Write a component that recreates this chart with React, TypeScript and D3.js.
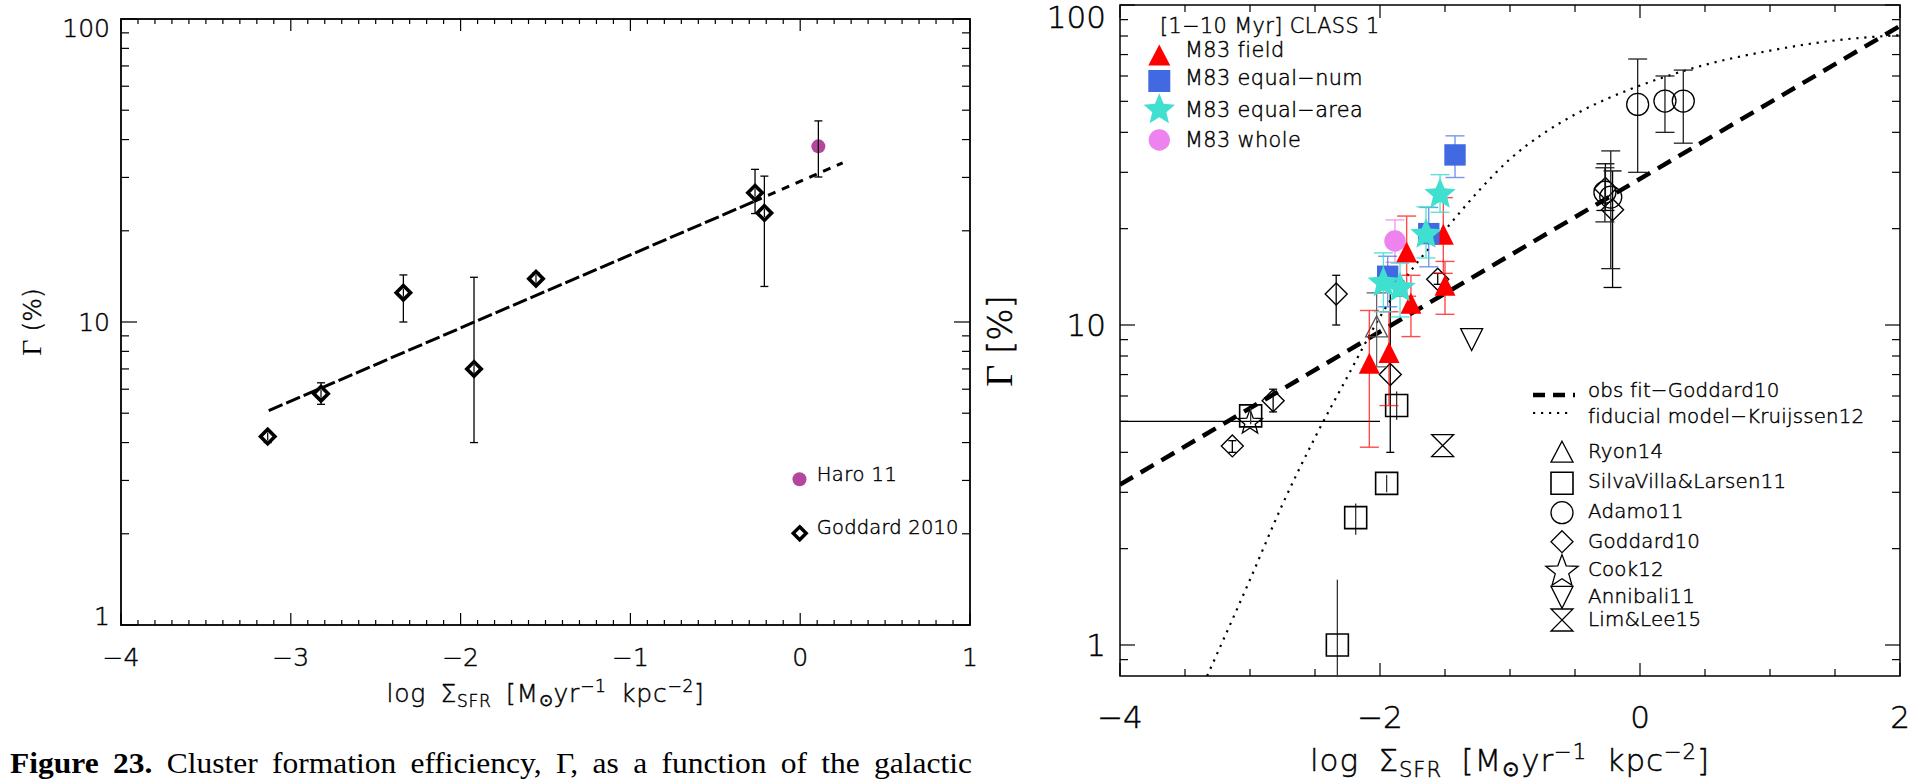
import React, { useLayoutEffect, useRef } from "react";
import * as d3 from "d3";

const SANS = "'DejaVu Sans', sans-serif";
const SANS_WEIGHT = 300;
const SANS_STROKE = { stroke: "#000", strokeWidth: 0.45 };
const SERIF = "'Liberation Serif', 'Times New Roman', serif";

// ---------- Goddard et al. (2010) galaxies: log ΣSFR, Γ [%] and error range ----------
const goddardLogSfr = [-3.136, -2.822, -2.337, -1.921, -1.556, -0.266, -0.211];
const goddardGamma = [4.19, 5.8, 12.5, 7.0, 13.9, 26.7, 22.9];
const goddardLow = [4.0, 5.35, 10.0, 4.0, 13.4, 22.8, 13.1];
const goddardHigh = [4.35, 6.3, 14.3, 14.05, 14.5, 31.9, 30.3];

// ---------- Haro 11 ----------
const haroLogSfr = [0.107];
const haroGamma = [38.0];
const haroLow = [30.1];
const haroHigh = [46.1];

// Goddard10 relation as drawn on the left: long-dash part, then short-dash extension
const leftFitLogSfr = [-3.13, -0.27, 0.25];
const leftFitGamma = [5.1, 25.0, 33.5];

// ---------- Right panel ----------
const rightFitLogSfr = [-4, 2];
const rightFitGamma = [3.17, 86.0];

// Kruijssen (2012) fiducial model
const modelLogSfr = [-3.33, -3.0, -2.75, -2.5, -2.25, -2.0, -1.75, -1.5, -1.25, -1.0, -0.75, -0.5, -0.25, 0, 0.5, 1.0, 1.5, 2.0];
const modelGamma = [0.8, 1.6, 2.75, 4.45, 6.9, 10.6, 15.0, 19.8, 26.0, 33.0, 39.5, 45.5, 51.0, 56.0, 65.0, 72.0, 77.5, 80.5];

// M83 [1-10 Myr] class 1
const fieldLogSfr = [-2.082, -1.931, -1.762, -1.795, -1.5, -1.513];
const fieldGamma = [7.6, 8.2, 11.7, 16.9, 13.3, 19.2];
const fieldLow = [4.15, 5.6, 9.2, 12.3, 10.8, 14.5];
const fieldHigh = [11.1, 11.0, 14.3, 21.9, 15.8, 25.0];

const numLogSfr = [-1.941, -1.625, -1.423];
const numGamma = [14.2, 19.3, 34.0];
const numLow = [11.4, 15.2, 28.9];
const numHigh = [16.4, 23.3, 39.0];

const areaLogSfr = [-1.974, -1.846, -1.646, -1.538];
const areaGamma = [13.7, 13.2, 19.4, 25.9];
const areaLow = [11.0, 10.6, 16.2, 22.5];
const areaHigh = [16.8, 15.6, 23.4, 29.5];

const wholeLogSfr = [-1.885];
const wholeGamma = [18.3];
const wholeLow = [15.7];
const wholeHigh = [21.3];

// Literature samples
const ryonLogSfr = [-2.026];
const ryonGamma = [9.9];
const ryonLow = [7.4];
const ryonHigh = [12.6];

const silvaLogSfr = [-2.995, -1.872, -1.949, -2.187, -2.328];
const silvaGamma = [5.2, 5.6, 3.2, 2.5, 1.0];
const silvaLow = [4.9, 5.05, 3.0, 2.21, 0.5];
const silvaHigh = [5.5, 6.2, 3.4, 2.77, 1.6];

const adamoLogSfr = [-0.018, 0.192, 0.333, -0.27, -0.225];
const adamoGamma = [48.9, 50.1, 50.1, 26.0, 25.1];
const adamoLow = [30.0, 40.0, 37.0, 21.0, 15.0];
const adamoHigh = [67.8, 60.0, 62.6, 31.0, 35.0];

const cookLogSfr = [-3.0];
const cookGamma = [5.0];
const cookSfrLow = [-4.3];
const cookSfrHigh = [-2.0];

const annibaliLogSfr = [-1.295];
const annibaliGamma = [9.0];

const limLeeLogSfr = [-1.518];
const limLeeGamma = [4.2];

// Labels
const leftLegendLabels = ["Haro 11", "Goddard 2010"];
const m83Title = "[1\u221210 Myr] CLASS 1";
const m83Labels = ["M83 field", "M83 equal\u2212num", "M83 equal\u2212area", "M83 whole"];
const lineLabels = ["obs fit\u2212Goddard10", "fiducial model\u2212Kruijssen12"];
const litLabels = ["Ryon14", "SilvaVilla&Larsen11", "Adamo11", "Goddard10", "Cook12", "Annibali11", "Lim&Lee15"];
const leftXTicks = [-4, -3, -2, -1, 0, 1];
const rightXTicks = [-4, -2, 0, 2];
const yTickValues = [1, 10, 100];
const captionHead = "Figure 23.";
const captionBody = " Cluster formation efficiency, \u0393, as a function of the galactic";

// ---------- colours ----------
const RED = "#ff0000";
const BLUE = "#4169e1";
const CYAN = "#40e0d0";
const VIOLET = "#ee82ee";
const HARO = "#b4469d";

// ---------- symbol paths ----------
const diamondPath = (cx: number, cy: number, r: number) =>
  `M${cx},${cy - r}L${cx + r},${cy}L${cx},${cy + r}L${cx - r},${cy}Z`;
const triUpPath = (cx: number, cy: number, w: number, h: number) =>
  `M${cx},${cy - h / 2}L${cx + w},${cy + h / 2}L${cx - w},${cy + h / 2}Z`;
const triDownPath = (cx: number, cy: number, w: number, h: number) =>
  `M${cx - w},${cy - h / 2}L${cx + w},${cy - h / 2}L${cx},${cy + h / 2}Z`;
const hourglassPath = (cx: number, cy: number, r: number) =>
  `M${cx - r},${cy - r}L${cx + r},${cy - r}L${cx - r},${cy + r}L${cx + r},${cy + r}Z`;
const squarePath = (cx: number, cy: number, r: number) =>
  `M${cx - r},${cy - r}h${2 * r}v${2 * r}h${-2 * r}Z`;
const starPath = (cx: number, cy: number, R: number, ratio = 0.42) => {
  const pts: string[] = [];
  for (let i = 0; i < 10; i++) {
    const r = i % 2 === 0 ? R : R * ratio;
    const a = -Math.PI / 2 + (i * Math.PI) / 5;
    pts.push(`${cx + r * Math.cos(a)},${cy + r * Math.sin(a) + R * 0.095}`);
  }
  return "M" + pts.join("L") + "Z";
};

// Text whose inter-word spaces are stretched so that it spans a given width
function SpacedText({ width, children, ...rest }: any) {
  const ref = useRef<SVGTextElement>(null);
  useLayoutEffect(() => {
    const el = ref.current;
    if (!el) return;
    el.style.wordSpacing = "0px";
    const natural = el.getComputedTextLength();
    const spaces = (el.textContent || "").split(" ").length - 1;
    if (spaces > 0) el.style.wordSpacing = `${Math.max(0, (width - natural) / spaces)}px`;
  }, [width]);
  return (
    <text ref={ref} {...rest}>
      {children}
    </text>
  );
}

function VErr({ x, y0, y1, cap, color, width = 1.2, opacity = 1 }: any) {
  return (
    <g stroke={color} strokeWidth={width} opacity={opacity}>
      <line x1={x} x2={x} y1={y0} y2={y1} />
      {cap > 0 && (
        <>
          <line x1={x - cap / 2} x2={x + cap / 2} y1={y0} y2={y0} />
          <line x1={x - cap / 2} x2={x + cap / 2} y1={y1} y2={y1} />
        </>
      )}
    </g>
  );
}

// Box frame with inward ticks on all four sides and labels on left/bottom
function Frame({ x, y, xMinor, xMajor, yMinor, yMajor, xLabels, xMinorLen, xMajorLen, yMinorLen, yMajorLen,
  tickFont, labelRight, xLabelBaseline, stroke }: any) {
  const [x0, x1] = x.range();
  const [yb, yt] = y.range();
  const digitH = tickFont * 0.73;
  return (
    <g stroke="#000" strokeWidth={1.2} fill="none">
      <rect x={x0} y={yt} width={x1 - x0} height={yb - yt} strokeWidth={stroke} />
      {xMinor.map((v: number, i: number) => (
        <g key={"xm" + i}>
          <line x1={x(v)} x2={x(v)} y1={yb} y2={yb - xMinorLen} />
          <line x1={x(v)} x2={x(v)} y1={yt} y2={yt + xMinorLen} />
        </g>
      ))}
      {xMajor.map((v: number, i: number) => (
        <g key={"xM" + i}>
          <line x1={x(v)} x2={x(v)} y1={yb} y2={yb - xMajorLen} />
          <line x1={x(v)} x2={x(v)} y1={yt} y2={yt + xMajorLen} />
        </g>
      ))}
      {yMinor.map((v: number, i: number) => (
        <g key={"ym" + i}>
          <line x1={x0} x2={x0 + yMinorLen} y1={y(v)} y2={y(v)} />
          <line x1={x1} x2={x1 - yMinorLen} y1={y(v)} y2={y(v)} />
        </g>
      ))}
      {yMajor.map((v: number, i: number) => (
        <g key={"yM" + i}>
          <line x1={x0} x2={x0 + yMajorLen} y1={y(v)} y2={y(v)} />
          <line x1={x1} x2={x1 - yMajorLen} y1={y(v)} y2={y(v)} />
        </g>
      ))}
      <g fill="#000" {...SANS_STROKE} fontFamily={SANS} fontWeight={SANS_WEIGHT} fontSize={tickFont}>
        {yMajor.map((v: number, i: number) => {
          const base = Math.max(yt + digitH, Math.min(y(v) + digitH / 2, yb));
          return (
            <text key={"yl" + i} x={labelRight} y={base} textAnchor="end">
              {String(v)}
            </text>
          );
        })}
        {xLabels.map((v: number, i: number) => (
          <text key={"xl" + i} x={x(v)} y={xLabelBaseline} textAnchor="middle">
            {v < 0 ? "\u2212" + Math.abs(v) : String(v)}
          </text>
        ))}
      </g>
    </g>
  );
}

function SfrTitle({ cx, y, size, width }: any) {
  const s = size * 0.68;
  const dn = size * 0.2;
  const up = size * 0.4;
  return (
    <SpacedText x={cx - width / 2} y={y} fontSize={size} fontFamily={SANS} fontWeight={SANS_WEIGHT}
      letterSpacing={size * 0.03} width={width} {...SANS_STROKE}>
      {"log \u03a3"}
      <tspan fontSize={s} dy={dn}>SFR</tspan>
      <tspan dy={-dn}>{" [M"}</tspan>
      <tspan fontSize={s} dy={dn * 0.8}>{"\u2299"}</tspan>
      <tspan dy={-dn * 0.8}>yr</tspan>
      <tspan fontSize={s} dy={-up}>{"\u22121"}</tspan>
      <tspan dy={up}>{" kpc"}</tspan>
      <tspan fontSize={s} dy={-up}>{"\u22122"}</tspan>
      <tspan dy={up}>]</tspan>
    </SpacedText>
  );
}

function decadeMinors(lo: number, hi: number) {
  const out: number[] = [];
  for (let e = lo; e < hi; e++) for (let m = 2; m <= 9; m++) out.push(m * Math.pow(10, e));
  return out;
}

export default function App() {
  // ----- scales -----
  const xL = d3.scaleLinear().domain([-4, 1]).range([121, 970]);
  const yL = d3.scaleLog().domain([1, 100]).range([625, 19]);
  const xR = d3.scaleLinear().domain([-4, 2]).range([1120, 1900]);
  const yR = d3.scaleLog().domain([0.8, 100]).range([676, 5]);

  const leftXMinor = d3.range(-40, 11).map((i) => i / 10).filter((v) => Math.abs(v - Math.round(v)) > 1e-6);
  const rightXMinor = d3.range(-8, 5).map((i) => i / 2).filter((v) => !rightXTicks.includes(v));
  const leftYMinor = decadeMinors(0, 2);
  const rightYMinor = [0.9, ...decadeMinors(0, 2)];

  const lineL = d3.line<[number, number]>().x((d) => xL(d[0])).y((d) => yL(d[1]));
  const lineR = d3.line<[number, number]>().x((d) => xR(d[0])).y((d) => yR(d[1]));
  const modelLine = d3
    .line<[number, number]>()
    .x((d) => xR(d[0]))
    .y((d) => yR(d[1]))
    .curve(d3.curveMonotoneX);

  const pairs = (xs: number[], ys: number[]) => xs.map((v, i) => [v, ys[i]] as [number, number]);

  return (
    <svg width={1915} height={782} style={{ position: "absolute", left: 0, top: 0, background: "#fff" }}>
      <rect width={1915} height={782} fill="#fff" />
      <defs>
        <clipPath id="clipR">
          <rect x={1120} y={5} width={780} height={671} />
        </clipPath>
        <clipPath id="clipL">
          <rect x={121} y={19} width={849} height={606} />
        </clipPath>
      </defs>

      {/* ================= LEFT PANEL ================= */}
      <Frame
        x={xL} y={yL}
        xMinor={leftXMinor} xMajor={leftXTicks}
        yMinor={leftYMinor} yMajor={yTickValues}
        xLabels={leftXTicks}
        xMinorLen={5} xMajorLen={12} yMinorLen={8} yMajorLen={16}
        tickFont={25} labelRight={110} xLabelBaseline={666} stroke={1.8}
      />
      <g clipPath="url(#clipL)" fill="none" stroke="#000" strokeWidth={3}>
        <path d={lineL(pairs(leftFitLogSfr.slice(0, 2), leftFitGamma.slice(0, 2))) || ""} strokeDasharray="15,4" />
        <path d={lineL(pairs(leftFitLogSfr.slice(1), leftFitGamma.slice(1))) || ""} strokeDasharray="8,7" />
      </g>
      {goddardLogSfr.map((v, i) => {
        const cx = xL(v);
        return (
          <g key={"gl" + i}>
            <VErr x={cx} y0={yL(goddardLow[i])} y1={yL(goddardHigh[i])} cap={8} color="#000" width={1.3} />
            <path d={diamondPath(cx, yL(goddardGamma[i]), 7.2)} fill="#fff" stroke="#000" strokeWidth={3.6} />
            <line x1={cx} x2={cx} y1={yL(goddardGamma[i]) - 4} y2={yL(goddardGamma[i]) + 4} stroke="#000" strokeWidth={1.2} />
          </g>
        );
      })}
      {haroLogSfr.map((v, i) => (
        <g key={"haro" + i}>
          <circle cx={xL(v)} cy={yL(haroGamma[i])} r={7} fill={HARO} />
          <VErr x={xL(v)} y0={yL(haroLow[i])} y1={yL(haroHigh[i])} cap={8} color="#000" width={1.3} />
        </g>
      ))}
      {/* left legend */}
      <circle cx={799.5} cy={479.3} r={7} fill={HARO} />
      <path d={diamondPath(799.7, 533.3, 6.5)} fill="#fff" stroke="#000" strokeWidth={3.4} />
      <g fontFamily={SANS} fontWeight={SANS_WEIGHT} fontSize={19.5} {...SANS_STROKE}>
        <text x={816.7} y={480.7} letterSpacing={0.5}>{leftLegendLabels[0]}</text>
        <text x={816.7} y={534.3} letterSpacing={0.2}>{leftLegendLabels[1]}</text>
      </g>

      {/* axis titles */}
      <text transform="translate(41,322) rotate(-90)" textAnchor="middle" fontSize={25} fontFamily={SANS}
        fontWeight={SANS_WEIGHT} {...SANS_STROKE}>
        <tspan fontFamily={SERIF} fontSize={28} strokeWidth={0}>{"\u0393"}</tspan>
        {"  (%)"}
      </text>
      <SfrTitle cx={545.5} y={702} size={25} width={318} />

      {/* caption */}
      <g transform="translate(10,773) scale(1,0.92)">
        <SpacedText x={0} y={0} fontFamily={SERIF} fontSize={31.5} width={962}>
          <tspan fontWeight="bold">{captionHead}</tspan>
          {captionBody}
        </SpacedText>
      </g>

      {/* ================= RIGHT PANEL ================= */}
      <Frame
        x={xR} y={yR}
        xMinor={rightXMinor} xMajor={rightXTicks}
        yMinor={rightYMinor} yMajor={yTickValues}
        xLabels={rightXTicks}
        xMinorLen={7} xMajorLen={13} yMinorLen={8} yMajorLen={15}
        tickFont={31} labelRight={1106} xLabelBaseline={728} stroke={1.5}
      />

      <g clipPath="url(#clipR)">
        {/* model and fit */}
        <path d={modelLine(pairs(modelLogSfr, modelGamma)) || ""} fill="none" stroke="#000" strokeWidth={2.2} strokeDasharray="2.2,5.8" />
        <path d={lineR(pairs(rightFitLogSfr, rightFitGamma)) || ""} fill="none" stroke="#000" strokeWidth={4.5} strokeDasharray="15,9" />

        {/* Cook12 */}
        {cookLogSfr.map((v, i) => (
          <g key={"cook" + i}>
            <line x1={xR(cookSfrLow[i])} x2={xR(cookSfrHigh[i])} y1={yR(cookGamma[i])} y2={yR(cookGamma[i])} stroke="#000" strokeWidth={1.2} />
            <path d={starPath(xR(v), yR(cookGamma[i]), 13, 0.42)} fill="none" stroke="#000" strokeWidth={1.3} />
          </g>
        ))}
        {/* SilvaVilla & Larsen 11 */}
        {silvaLogSfr.map((v, i) => (
          <g key={"silva" + i}>
            <VErr x={xR(v)} y0={yR(silvaLow[i])} y1={yR(silvaHigh[i])} cap={0} color="#333" width={1.3} />
            <path d={squarePath(xR(v), yR(silvaGamma[i]), 11)} fill="none" stroke="#000" strokeWidth={1.6} />
          </g>
        ))}
        {/* Goddard10 */}
        {goddardLogSfr.map((v, i) => (
          <g key={"gr" + i}>
            <VErr x={xR(v)} y0={yR(goddardLow[i])} y1={yR(goddardHigh[i])} cap={i >= 5 ? 18 : 8} color="#000" width={1.3} />
            <path d={diamondPath(xR(v), yR(goddardGamma[i]), 11)} fill="none" stroke="#000" strokeWidth={1.4} />
          </g>
        ))}
        {/* Adamo11 */}
        {adamoLogSfr.map((v, i) => (
          <g key={"adamo" + i}>
            <VErr x={xR(v)} y0={yR(adamoLow[i])} y1={yR(adamoHigh[i])} cap={19} color="#222" width={1.3} />
            <circle cx={xR(v)} cy={yR(adamoGamma[i])} r={11} fill="none" stroke="#000" strokeWidth={1.3} />
          </g>
        ))}
        {/* Ryon14 */}
        {ryonLogSfr.map((v, i) => (
          <g key={"ryon" + i}>
            <VErr x={xR(v)} y0={yR(ryonLow[i])} y1={yR(ryonHigh[i])} cap={20} color="#666" width={1.3} />
            <path d={triUpPath(xR(v), yR(ryonGamma[i]), 11, 21)} fill="none" stroke="#555" strokeWidth={1.3} />
          </g>
        ))}
        {/* Annibali11 */}
        {annibaliLogSfr.map((v, i) => (
          <path key={"ann" + i} d={triDownPath(xR(v), yR(annibaliGamma[i]), 11, 22)} fill="none" stroke="#000" strokeWidth={1.3} />
        ))}
        {/* Lim & Lee 15 */}
        {limLeeLogSfr.map((v, i) => (
          <path key={"lim" + i} d={hourglassPath(xR(v), yR(limLeeGamma[i]), 11)} fill="none" stroke="#000" strokeWidth={1.3} />
        ))}

        {/* M83 whole */}
        {wholeLogSfr.map((v, i) => (
          <g key={"whole" + i}>
            <VErr x={xR(v)} y0={yR(wholeLow[i])} y1={yR(wholeHigh[i])} cap={19} color={VIOLET} width={1.4} opacity={0.8} />
            <circle cx={xR(v)} cy={yR(wholeGamma[i])} r={10.7} fill={VIOLET} />
          </g>
        ))}
        {/* M83 field */}
        {fieldLogSfr.map((v, i) => (
          <g key={"field" + i}>
            <VErr x={xR(v)} y0={yR(fieldLow[i])} y1={yR(fieldHigh[i])} cap={19} color={RED} width={1.4} opacity={0.7} />
            <path d={triUpPath(xR(v), yR(fieldGamma[i]), 10.5, 21)} fill={RED} />
          </g>
        ))}
        {/* M83 equal-number */}
        {numLogSfr.map((v, i) => (
          <g key={"num" + i}>
            <VErr x={xR(v)} y0={yR(numLow[i])} y1={yR(numHigh[i])} cap={19} color={BLUE} width={1.4} opacity={0.7} />
            <path d={squarePath(xR(v), yR(numGamma[i]), 10.7)} fill={BLUE} />
          </g>
        ))}
        {/* M83 equal-area */}
        {areaLogSfr.map((v, i) => (
          <g key={"area" + i}>
            <VErr x={xR(v)} y0={yR(areaLow[i])} y1={yR(areaHigh[i])} cap={19} color={CYAN} width={1.4} opacity={0.85} />
            <path d={starPath(xR(v), yR(areaGamma[i]), 16.5, 0.45)} fill={CYAN} />
          </g>
        ))}
      </g>

      {/* M83 legend */}
      <path d={triUpPath(1159.3, 55, 11, 21)} fill={RED} />
      <path d={squarePath(1159.3, 81, 11)} fill={BLUE} />
      <path d={starPath(1159.3, 108.3, 16.5, 0.45)} fill={CYAN} />
      <circle cx={1159.3} cy={140} r={10.7} fill={VIOLET} />
      <g fontFamily={SANS} fontWeight={SANS_WEIGHT} fontSize={20.8} letterSpacing={0.4} {...SANS_STROKE}>
        <text x={1160} y={33}>{m83Title}</text>
        <text x={1185} y={57.3}>{m83Labels[0]}</text>
        <text x={1185} y={85}>{m83Labels[1]}</text>
        <text x={1185} y={116.7}>{m83Labels[2]}</text>
        <text x={1185} y={147.3}>{m83Labels[3]}</text>
      </g>

      {/* literature legend */}
      <line x1={1533} x2={1575} y1={395} y2={395} stroke="#000" strokeWidth={4.5} strokeDasharray="12,8" />
      <line x1={1533} x2={1572} y1={413} y2={413} stroke="#000" strokeWidth={2.2} strokeDasharray="2.2,5.8" />
      <g fill="none" stroke="#000" strokeWidth={1.3}>
        <path d={triUpPath(1562, 451.7, 11, 21)} />
        <path d={squarePath(1562, 483.3, 11)} strokeWidth={1.6} />
        <circle cx={1562} cy={512.7} r={11} />
        <path d={diamondPath(1562, 541.7, 11)} />
        <path d={starPath(1562, 570, 17, 0.42)} />
        <path d={triDownPath(1562, 597.3, 11, 22)} />
        <path d={hourglassPath(1562, 620, 11)} />
      </g>
      <g fontFamily={SANS} fontWeight={SANS_WEIGHT} fontSize={19.8} letterSpacing={0.2} {...SANS_STROKE}>
        <text x={1588} y={396.7}>{lineLabels[0]}</text>
        <text x={1588} y={423}>{lineLabels[1]}</text>
        <text x={1588} y={458.3}>{litLabels[0]}</text>
        <text x={1588} y={488.3}>{litLabels[1]}</text>
        <text x={1588} y={518.3}>{litLabels[2]}</text>
        <text x={1588} y={548.3}>{litLabels[3]}</text>
        <text x={1588} y={576}>{litLabels[4]}</text>
        <text x={1588} y={603.3}>{litLabels[5]}</text>
        <text x={1588} y={626}>{litLabels[6]}</text>
      </g>

      {/* axis titles */}
      <text transform="translate(1012,341) rotate(-90)" textAnchor="middle" fontSize={34} fontFamily={SANS}
        fontWeight={SANS_WEIGHT} {...SANS_STROKE}>
        <tspan fontFamily={SERIF} fontSize={38} strokeWidth={0}>{"\u0393"}</tspan>
        {"  [%]"}
      </text>
      <SfrTitle cx={1510} y={771} size={31} width={400} />
    </svg>
  );
}
